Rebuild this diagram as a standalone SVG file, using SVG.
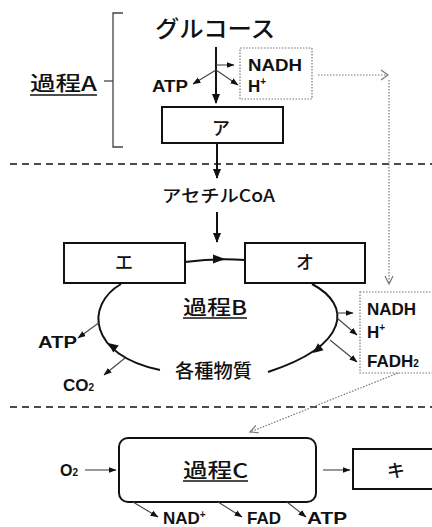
<svg xmlns="http://www.w3.org/2000/svg" width="432" height="527" viewBox="0 0 432 527">
<defs>
<marker id="ahBig" markerUnits="userSpaceOnUse" markerWidth="10" markerHeight="9" viewBox="0 0 10 9" refX="9" refY="4.5" orient="auto"><path d="M0,0.5 L10,4.5 L0,8.5 z" fill="#111"/></marker>
<marker id="ahSm" markerUnits="userSpaceOnUse" markerWidth="8" markerHeight="7" viewBox="0 0 8 7" refX="7.5" refY="3.5" orient="auto"><path d="M0,0.5 L8,3.5 L0,6.5 z" fill="#111"/></marker>
<marker id="ahOpen" markerUnits="userSpaceOnUse" markerWidth="10" markerHeight="10" viewBox="0 0 10 10" refX="9" refY="5" orient="auto"><path d="M1,1 L9,5 L1,9" fill="none" stroke="#777" stroke-width="1.2"/></marker>
</defs>
<style>
.jp{font-family:"Noto Sans CJK JP","Noto Sans",sans-serif;fill:#111;font-weight:500}
.lat{font-family:"Liberation Sans","Noto Sans CJK JP",sans-serif;fill:#111;font-weight:bold}
.box{fill:#fff;stroke:#111;stroke-width:2}
.thick{stroke:#111;stroke-width:2;fill:none}
.thin{stroke:#444;stroke-width:1.1;fill:none}
.dot{stroke:#777;stroke-width:1.2;stroke-dasharray:1.5 1.5;fill:none}
.dash{stroke:#111;stroke-width:1.6;stroke-dasharray:7 5;fill:none}
.ul{stroke:#111;stroke-width:1.3}
</style>

<!-- section separators -->
<g id="separators">
<line class="dash" x1="10" y1="164" x2="432" y2="164"/>
<line class="dash" x1="10" y1="407" x2="432" y2="407"/>
</g>

<!-- process A label with bracket -->
<g id="processA">
<text class="jp" x="30" y="91" font-size="20" textLength="67" lengthAdjust="spacingAndGlyphs">過程A</text>
<line class="ul" x1="30" y1="95" x2="97" y2="95"/>
<path d="M123,13 L113,13 L113,147 L123,147" fill="none" stroke="#444" stroke-width="1.3"/>
<line x1="104" y1="81" x2="113" y2="81" stroke="#444" stroke-width="1.3"/>
</g>

<g id="glucose">
<text class="jp" x="155" y="37" font-size="23" textLength="120" lengthAdjust="spacingAndGlyphs">グルコース</text>
</g>

<g id="atpA">
<text class="lat" x="152" y="92" font-size="16" textLength="36" lengthAdjust="spacingAndGlyphs">ATP</text>
</g>

<g id="nadhA">
<rect class="dot" x="240" y="48" width="72" height="51"/>
<text class="lat" x="248" y="71" font-size="17" textLength="54" lengthAdjust="spacingAndGlyphs">NADH</text>
<text class="lat" x="248" y="92" font-size="17">H<tspan font-size="10" dy="-7">+</tspan></text>
</g>

<g id="boxA">
<rect class="box" x="162" y="107" width="121" height="36"/>
<text class="jp" x="221" y="135" font-size="18" text-anchor="middle">ア</text>
</g>

<g id="acetylCoA">
<text class="jp" x="162" y="202" font-size="17" textLength="113" lengthAdjust="spacingAndGlyphs">アセチルCoA</text>
</g>

<g id="boxE">
<rect class="box" x="64" y="243" width="121" height="40"/>
<text class="jp" x="124" y="269" font-size="18" text-anchor="middle">エ</text>
</g>

<g id="boxO">
<rect class="box" x="245" y="243" width="120" height="40"/>
<text class="jp" x="305" y="269" font-size="18" text-anchor="middle">オ</text>
</g>

<g id="processB">
<text class="jp" x="183" y="315" font-size="20" textLength="64" lengthAdjust="spacingAndGlyphs">過程B</text>
<line class="ul" x1="183" y1="318" x2="247" y2="318"/>
</g>

<g id="substances">
<text class="jp" x="175" y="378" font-size="19" textLength="77" lengthAdjust="spacingAndGlyphs">各種物質</text>
</g>

<g id="atpB">
<text class="lat" x="38" y="348" font-size="16" textLength="39" lengthAdjust="spacingAndGlyphs">ATP</text>
</g>

<g id="co2">
<text class="lat" x="63" y="391" font-size="17">CO<tspan font-size="10">2</tspan></text>
</g>

<g id="nadhB">
<rect class="dot" x="360" y="292" width="80" height="81"/>
<text class="lat" x="367" y="315" font-size="17">NADH</text>
<text class="lat" x="367" y="338" font-size="17">H<tspan font-size="10" dy="-7">+</tspan></text>
<text class="lat" x="367" y="367" font-size="17">FADH<tspan font-size="10">2</tspan></text>
</g>

<g id="o2">
<text class="lat" x="60" y="476" font-size="16">O<tspan font-size="10">2</tspan></text>
</g>

<g id="processC">
<rect class="box" x="119" y="438" width="197" height="64" rx="9"/>
<text class="jp" x="183" y="478" font-size="20" textLength="65" lengthAdjust="spacingAndGlyphs">過程C</text>
<line class="ul" x1="183" y1="481" x2="248" y2="481"/>
</g>

<g id="boxKi">
<rect class="box" x="353" y="449" width="90" height="40"/>
<text class="jp" x="396" y="477" font-size="18" text-anchor="middle">キ</text>
</g>

<g id="products">
<text class="lat" x="163" y="524" font-size="17">NAD<tspan font-size="10" dy="-6">+</tspan></text>
<text class="lat" x="247" y="524" font-size="17">FAD</text>
<text class="lat" x="307" y="524" font-size="17" textLength="40" lengthAdjust="spacingAndGlyphs">ATP</text>
</g>

<!-- connectors -->
<g id="connectors">
<line class="thick" x1="216" y1="47" x2="216" y2="103" marker-end="url(#ahBig)"/>
<line class="thin" x1="216" y1="65" x2="234" y2="65" marker-end="url(#ahSm)"/>
<line class="thin" x1="216" y1="70" x2="193" y2="84" marker-end="url(#ahSm)"/>
<line class="thin" x1="216" y1="70" x2="238" y2="85" marker-end="url(#ahSm)"/>
<line class="thick" x1="217" y1="143" x2="217" y2="178" marker-end="url(#ahBig)"/>
<line class="thick" x1="217" y1="212" x2="217" y2="242" marker-end="url(#ahBig)"/>

<path class="thick" d="M185,262 Q215,258 245,260"/>
<path d="M213,254.5 L225,259 L213,263.5 z" fill="#111"/>

<path class="thick" d="M160,370 C88,355 85,305 121,284"/>
<path d="M108,343 L118.7,345.4 L113.3,352.6 z" fill="#111"/>
<path class="thick" d="M312,284 C352,305 350,345 268,372"/>
<path d="M313,353 L323.6,350.3 L318,343.3 z" fill="#111"/>

<line class="thin" x1="100" y1="322" x2="78" y2="338" marker-end="url(#ahSm)"/>
<line class="thin" x1="125" y1="358" x2="104" y2="375" marker-end="url(#ahSm)"/>
<line class="thin" x1="337" y1="313" x2="353" y2="313" marker-end="url(#ahSm)"/>
<line class="thin" x1="337" y1="318" x2="357" y2="335" marker-end="url(#ahSm)"/>
<line class="thin" x1="330" y1="340" x2="357" y2="362" marker-end="url(#ahSm)"/>

<path class="dot" d="M318,75 L387,75"/>
<path d="M381,70 L388,75 L381,80" fill="none" stroke="#777" stroke-width="1.2"/>
<path class="dot" d="M389,80 L389,284" marker-end="url(#ahOpen)"/>
<path class="dot" d="M398,373 L250,432" marker-end="url(#ahOpen)"/>

<line class="thin" x1="85" y1="470" x2="116" y2="470" marker-end="url(#ahSm)"/>
<line class="thin" x1="323" y1="470" x2="350" y2="470" marker-end="url(#ahSm)"/>
<line class="thin" x1="133" y1="502" x2="158" y2="517" marker-end="url(#ahSm)"/>
<line class="thin" x1="218" y1="502" x2="242" y2="517" marker-end="url(#ahSm)"/>
<line class="thin" x1="287" y1="502" x2="306" y2="517" marker-end="url(#ahSm)"/>
</g>
</svg>
